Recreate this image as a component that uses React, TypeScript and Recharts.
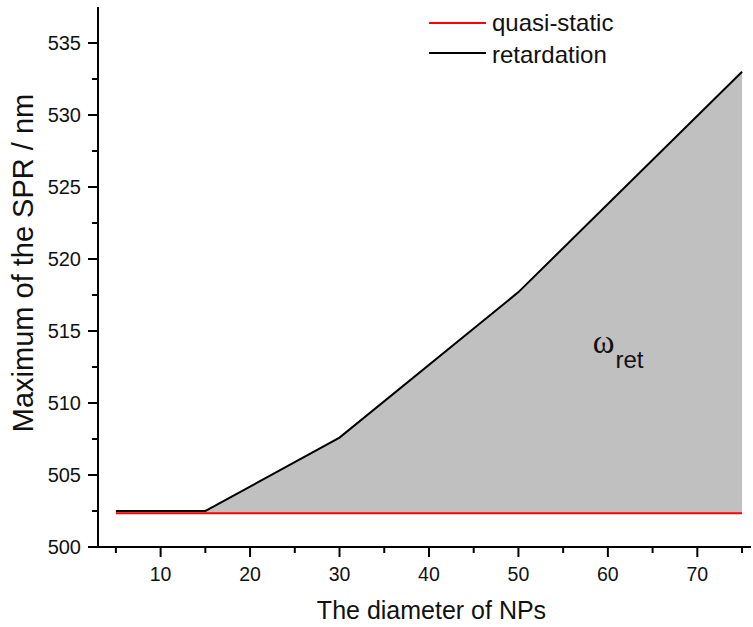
import React from "react";
import {
  ComposedChart,
  Area,
  Line,
  XAxis,
  YAxis,
  Legend,
  ReferenceDot,
} from "recharts";

const diameters = [5, 10, 15, 30, 50, 75];
const quasiStatic = [502.35, 502.35, 502.35, 502.35, 502.35, 502.35];
const retardation = [502.5, 502.5, 502.5, 507.6, 517.7, 533.0];
const xTicks = [5, 10, 15, 20, 25, 30, 35, 40, 45, 50, 55, 60, 65, 70, 75];
const yTicks = [500, 502.5, 505, 507.5, 510, 512.5, 515, 517.5, 520, 522.5, 525, 527.5, 530, 532.5, 535];
const seriesNames = { q: "quasi-static", r: "retardation" };

const data = diameters.map((d, i) => ({
  d,
  q: quasiStatic[i],
  r: retardation[i],
  band: [quasiStatic[i], retardation[i]],
}));

const FONT = "'Liberation Sans', Arial, sans-serif";

const XTick = (props: any) => {
  const { x, y, payload } = props;
  const v = payload.value;
  const major = v % 10 === 0;
  return (
    <g>
      <line x1={x} x2={x} y1={y} y2={y + (major ? 10 : 6)} stroke="#000" strokeWidth={2} />
      {major && (
        <text x={x} y={y + 34} textAnchor="middle" fontSize={19.5} fontFamily={FONT} fill="#111">
          {v}
        </text>
      )}
    </g>
  );
};

const YTick = (props: any) => {
  const { x, y, payload } = props;
  const v = payload.value;
  const major = v % 5 === 0;
  return (
    <g>
      <line x1={x} x2={x - (major ? 10 : 6)} y1={y} y2={y} stroke="#000" strokeWidth={2} />
      {major && (
        <text x={x - 17} y={y + 7} textAnchor="end" fontSize={20} fontFamily={FONT} fill="#111">
          {v}
        </text>
      )}
    </g>
  );
};

const LegendContent = (props: any) => {
  const items = (props.payload || []).filter((p: any) => p.type !== "none");
  return (
    <svg width={220} height={80}>
      {items.map((p: any, i: number) => {
        const ly = 15 + i * 30;
        return (
          <g key={i}>
            <line x1={0} x2={57} y1={ly} y2={ly} stroke={p.color} strokeWidth={2} />
            <text x={63} y={ly + 8 + i * 2} fontSize={24} fontFamily={FONT} fill="#111">
              {p.value}
            </text>
          </g>
        );
      })}
    </svg>
  );
};

const OmegaLabel = (props: any) => {
  const { cx, cy } = props;
  return (
    <text x={cx} y={cy} fill="#111">
      <tspan fontSize={33} fontFamily="'Liberation Serif', 'Times New Roman', serif">ω</tspan>
      <tspan fontSize={24} dy={15} dx={1} fontFamily={FONT}>ret</tspan>
    </text>
  );
};

export default function App() {
  return (
    <div style={{ position: "absolute", left: 0, top: 0, width: 753, height: 627, background: "#fff" }}>
      <ComposedChart
        width={753}
        height={627}
        data={data}
        margin={{ top: 7, right: 2, left: 0, bottom: 0 }}
      >
        <XAxis
          dataKey="d"
          type="number"
          domain={[3, 76]}
          allowDataOverflow
          ticks={xTicks}
          interval={0}
          tickSize={0}
          tickMargin={0}
          tick={<XTick />}
          axisLine={{ stroke: "#000", strokeWidth: 2 }}
          tickLine={false}
          height={80}
          label={{
            value: "The diameter of NPs",
            position: "insideBottom",
            offset: 8,
            dx: 7,
            fontSize: 25,
            fontFamily: FONT,
            fill: "#111",
          }}
        />
        <XAxis
          xAxisId="top"
          dataKey="d"
          type="number"
          domain={[3, 76]}
          orientation="top"
          tick={false}
          tickLine={false}
          axisLine={{ stroke: "#000", strokeWidth: 2 }}
          height={0}
        />
        <YAxis
          type="number"
          domain={[500, 537.5]}
          allowDataOverflow
          ticks={yTicks}
          interval={0}
          tickSize={0}
          tickMargin={0}
          tick={<YTick />}
          tickLine={false}
          axisLine={{ stroke: "#000", strokeWidth: 2 }}
          width={98}
          label={(lp: any) => (
            <text
              x={0}
              y={0}
              transform={`translate(33, ${lp.viewBox ? lp.viewBox.y + lp.viewBox.height / 2 - 14 : 263}) rotate(-90)`}
              textAnchor="middle"
              fontSize={29}
              fontFamily={FONT}
              fill="#111"
            >
              Maximum of the SPR / nm
            </text>
          )}
        />
        <Legend
          verticalAlign="middle"
          align="center"
          layout="horizontal"
          content={<LegendContent />}
          wrapperStyle={{ position: "absolute", left: 429, top: 8, width: 220, height: 80 }}
        />
        <Area
          dataKey="band"
          type="linear"
          fill="#c0c0c0"
          fillOpacity={1}
          stroke="none"
          legendType="none"
          isAnimationActive={false}
          activeDot={false}
        />
        <Line
          dataKey="q"
          name={seriesNames.q}
          type="linear"
          stroke="#ff0000"
          strokeWidth={2}
          dot={false}
          isAnimationActive={false}
        />
        <Line
          dataKey="r"
          name={seriesNames.r}
          type="linear"
          stroke="#000"
          strokeWidth={2}
          dot={false}
          isAnimationActive={false}
        />
        <ReferenceDot x={58.3} y={513.5} r={0} shape={<OmegaLabel />} />
      </ComposedChart>
    </div>
  );
}
